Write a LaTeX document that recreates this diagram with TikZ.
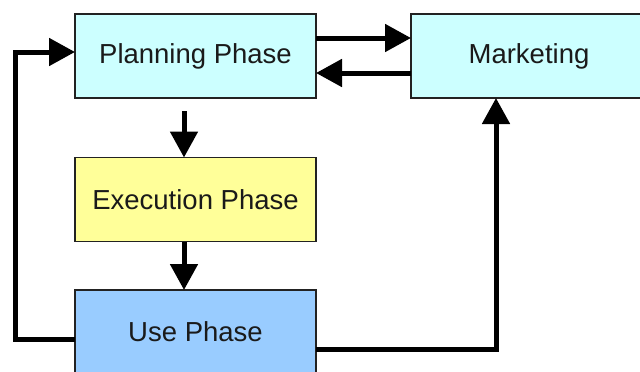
\documentclass[tikz,border=0pt]{standalone}
\usepackage{fontspec}
\setmainfont{Liberation Sans}
\usetikzlibrary{arrows.meta}
\definecolor{cyanbox}{HTML}{CCFFFF}
\definecolor{yellowbox}{HTML}{FFFF99}
\definecolor{bluebox}{HTML}{99CCFF}
\definecolor{edge}{HTML}{222222}
\definecolor{ink}{HTML}{1A1A1A}
\newcommand{\boxtext}[1]{\raisebox{-2pt}{#1}}
\tikzset{
  phase/.style={draw=edge, line width=1.3pt, inner sep=0pt, outer sep=0pt,
    minimum width=241pt, minimum height=84pt, text=ink,
    font=\fontsize{27.5}{31}\selectfont},
  flow/.style={line width=5pt, -{Triangle[length=26pt,width=27pt]}},
}
\begin{document}
\begin{tikzpicture}[x=1pt,y=-1pt]
  \clip (0,0) rectangle (640,372);
  \fill[white] (0,0) rectangle (640,372);

  % boxes
  \node[phase, fill=cyanbox]   (plan) at (195.5,56)  {\boxtext{Planning Phase}};
  \node[phase, fill=cyanbox, minimum width=236pt] (mkt) at (529,56) {\boxtext{Marketing}};
  \node[phase, fill=yellowbox] (exec) at (195.5,199.5) {\boxtext{Execution Phase}};
  \node[phase, fill=bluebox]   (use)  at (195.5,332) {\boxtext{Use Phase}};

  % planning <-> marketing
  \draw[flow] ([yshift=18pt]plan.east) -- ([yshift=18pt]mkt.west);
  \draw[flow] ([yshift=-17pt]mkt.west) -- ([yshift=-17pt]plan.east);

  % main sequence
  \draw[flow] ([xshift=-11.5pt,yshift=-13pt]plan.south) -- ([xshift=-11.5pt]exec.north);
  \draw[flow] ([xshift=-11.5pt]exec.south) -- ([xshift=-11.5pt]use.north);

  % feedback from use phase to planning
  \coordinate (planin) at ([yshift=4pt]plan.west);
  \coordinate (loopx) at (15,0);
  \draw[flow] ([yshift=-7pt]use.west) -| (loopx |- planin) -- (planin);

  % use phase to marketing
  \draw[flow] ([yshift=-17pt]use.east) -| ([xshift=-33pt]mkt.south);
\end{tikzpicture}
\end{document}
